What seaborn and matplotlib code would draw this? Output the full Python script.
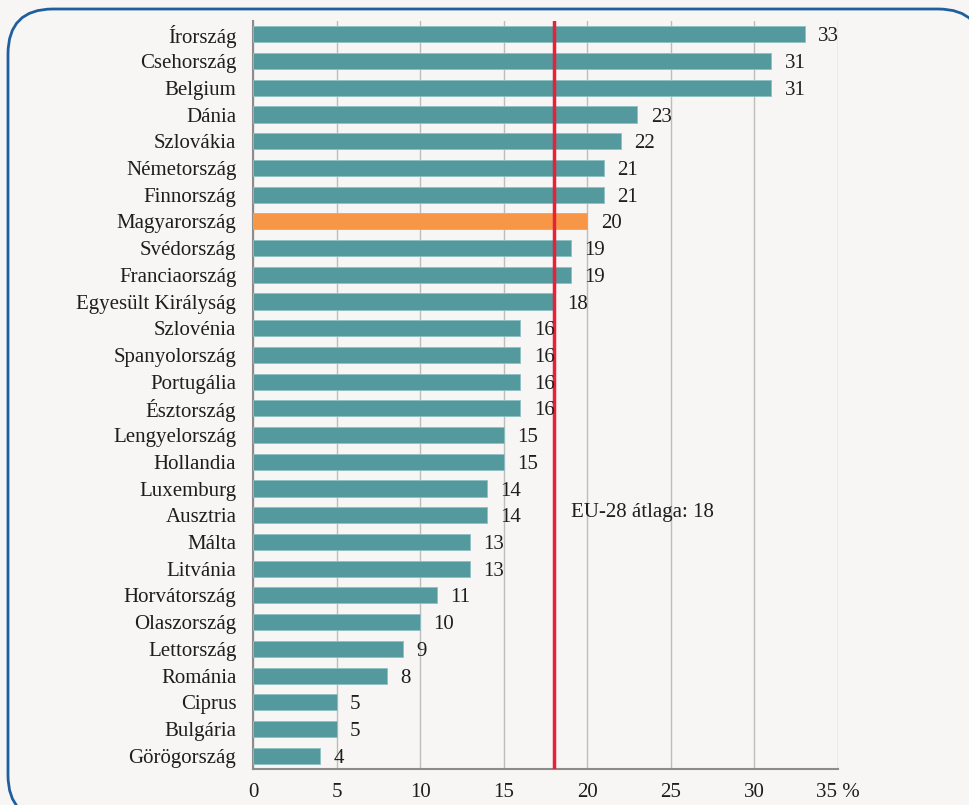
import matplotlib
matplotlib.use('Agg')
import matplotlib.pyplot as plt
from matplotlib.patches import FancyBboxPatch, Polygon
import seaborn as sns
import pandas as pd

countries = ['Írország', 'Csehország', 'Belgium', 'Dánia', 'Szlovákia', 'Németország',
             'Finnország', 'Magyarország', 'Svédország', 'Franciaország',
             'Egyesült Királyság', 'Szlovénia', 'Spanyolország', 'Portugália',
             'Észtország', 'Lengyelország', 'Hollandia', 'Luxemburg', 'Ausztria',
             'Málta', 'Litvánia', 'Horvátország', 'Olaszország', 'Lettország',
             'Románia', 'Ciprus', 'Bulgária', 'Görögország']
values = [33, 31, 31, 23, 22, 21, 21, 20, 19, 19, 18, 16, 16, 16, 16, 15, 15,
          14, 14, 13, 13, 11, 10, 9, 8, 5, 5, 4]
eu_avg = 18
highlight = 'Magyarország'
x_ticks = [0, 5, 10, 15, 20, 25, 30, 35]
x_ticklabels = ['0', '5', '10', '15', '20', '25', '30', '35 %']

bg = '#f7f6f4'
teal = '#53999e'
orange = '#f79646'
txt = '#1e1e1e'
fs = 15

sns.set_style('white')
plt.rcParams['font.family'] = ['Liberation Serif', 'DejaVu Serif']

df = pd.DataFrame({'country': countries, 'value': values})
palette = {c: (orange if c == highlight else teal) for c in countries}

fig = plt.figure(figsize=(9.69, 8.05), dpi=100, facecolor=bg)
ax = fig.add_axes([0.2611, 0.0447, 0.6037, 0.9292])
ax.set_facecolor(bg)

# rounded frame in pixel units, partly running off the right and bottom edges.
# flatten the curves first, otherwise agg's edge clipping mangles the corners
box = FancyBboxPatch((8, -15), 975, 811, boxstyle='round,pad=0,rounding_size=45')
outline = box.get_path().to_polygons(closed_only=False)[0]
frame = Polygon(outline, closed=True, fill=False, transform=None,
                edgecolor='#1f5f9e', linewidth=2, zorder=0)
fig.patches.append(frame)

sns.barplot(data=df, y='country', x='value', hue='country', palette=palette,
            saturation=1, legend=False, width=0.6, orient='h', ax=ax, zorder=3,
            edgecolor='#8fc0c3', linewidth=0.6)

for i, v in enumerate(values):
    ax.text(v + 0.8, i, str(v), va='center_baseline', ha='left', fontsize=fs,
            color=txt, zorder=5)

ax.axvline(eu_avg, color='#e8203a', linewidth=2.5, zorder=4)
ax.text(19, 17.8, f'EU-28 átlaga: {eu_avg}', va='center_baseline', ha='left',
        fontsize=fs, color=txt, zorder=5)

ax.set_xlim(0, 35)
ax.set_ylim(len(countries) - 0.5, -0.5)
ax.set_xticks(x_ticks)
ax.set_xticklabels(x_ticklabels)
ax.grid(axis='x', color='#bdbdbd', linewidth=1, zorder=0)
ax.set_axisbelow(True)
ax.set_xlabel('')
ax.set_ylabel('')

for s in ['top', 'right']:
    ax.spines[s].set_visible(False)
for s in ['left', 'bottom']:
    ax.spines[s].set_color('#8c8c8c')
    ax.spines[s].set_linewidth(1.5)

ax.tick_params(axis='y', length=0, pad=12, labelsize=fs, labelcolor=txt)
ax.tick_params(axis='x', direction='out', length=5, width=1.2, color='#8c8c8c',
               pad=5, labelsize=fs, labelcolor=txt)

fig.savefig('out.png', dpi=100, facecolor=bg)
